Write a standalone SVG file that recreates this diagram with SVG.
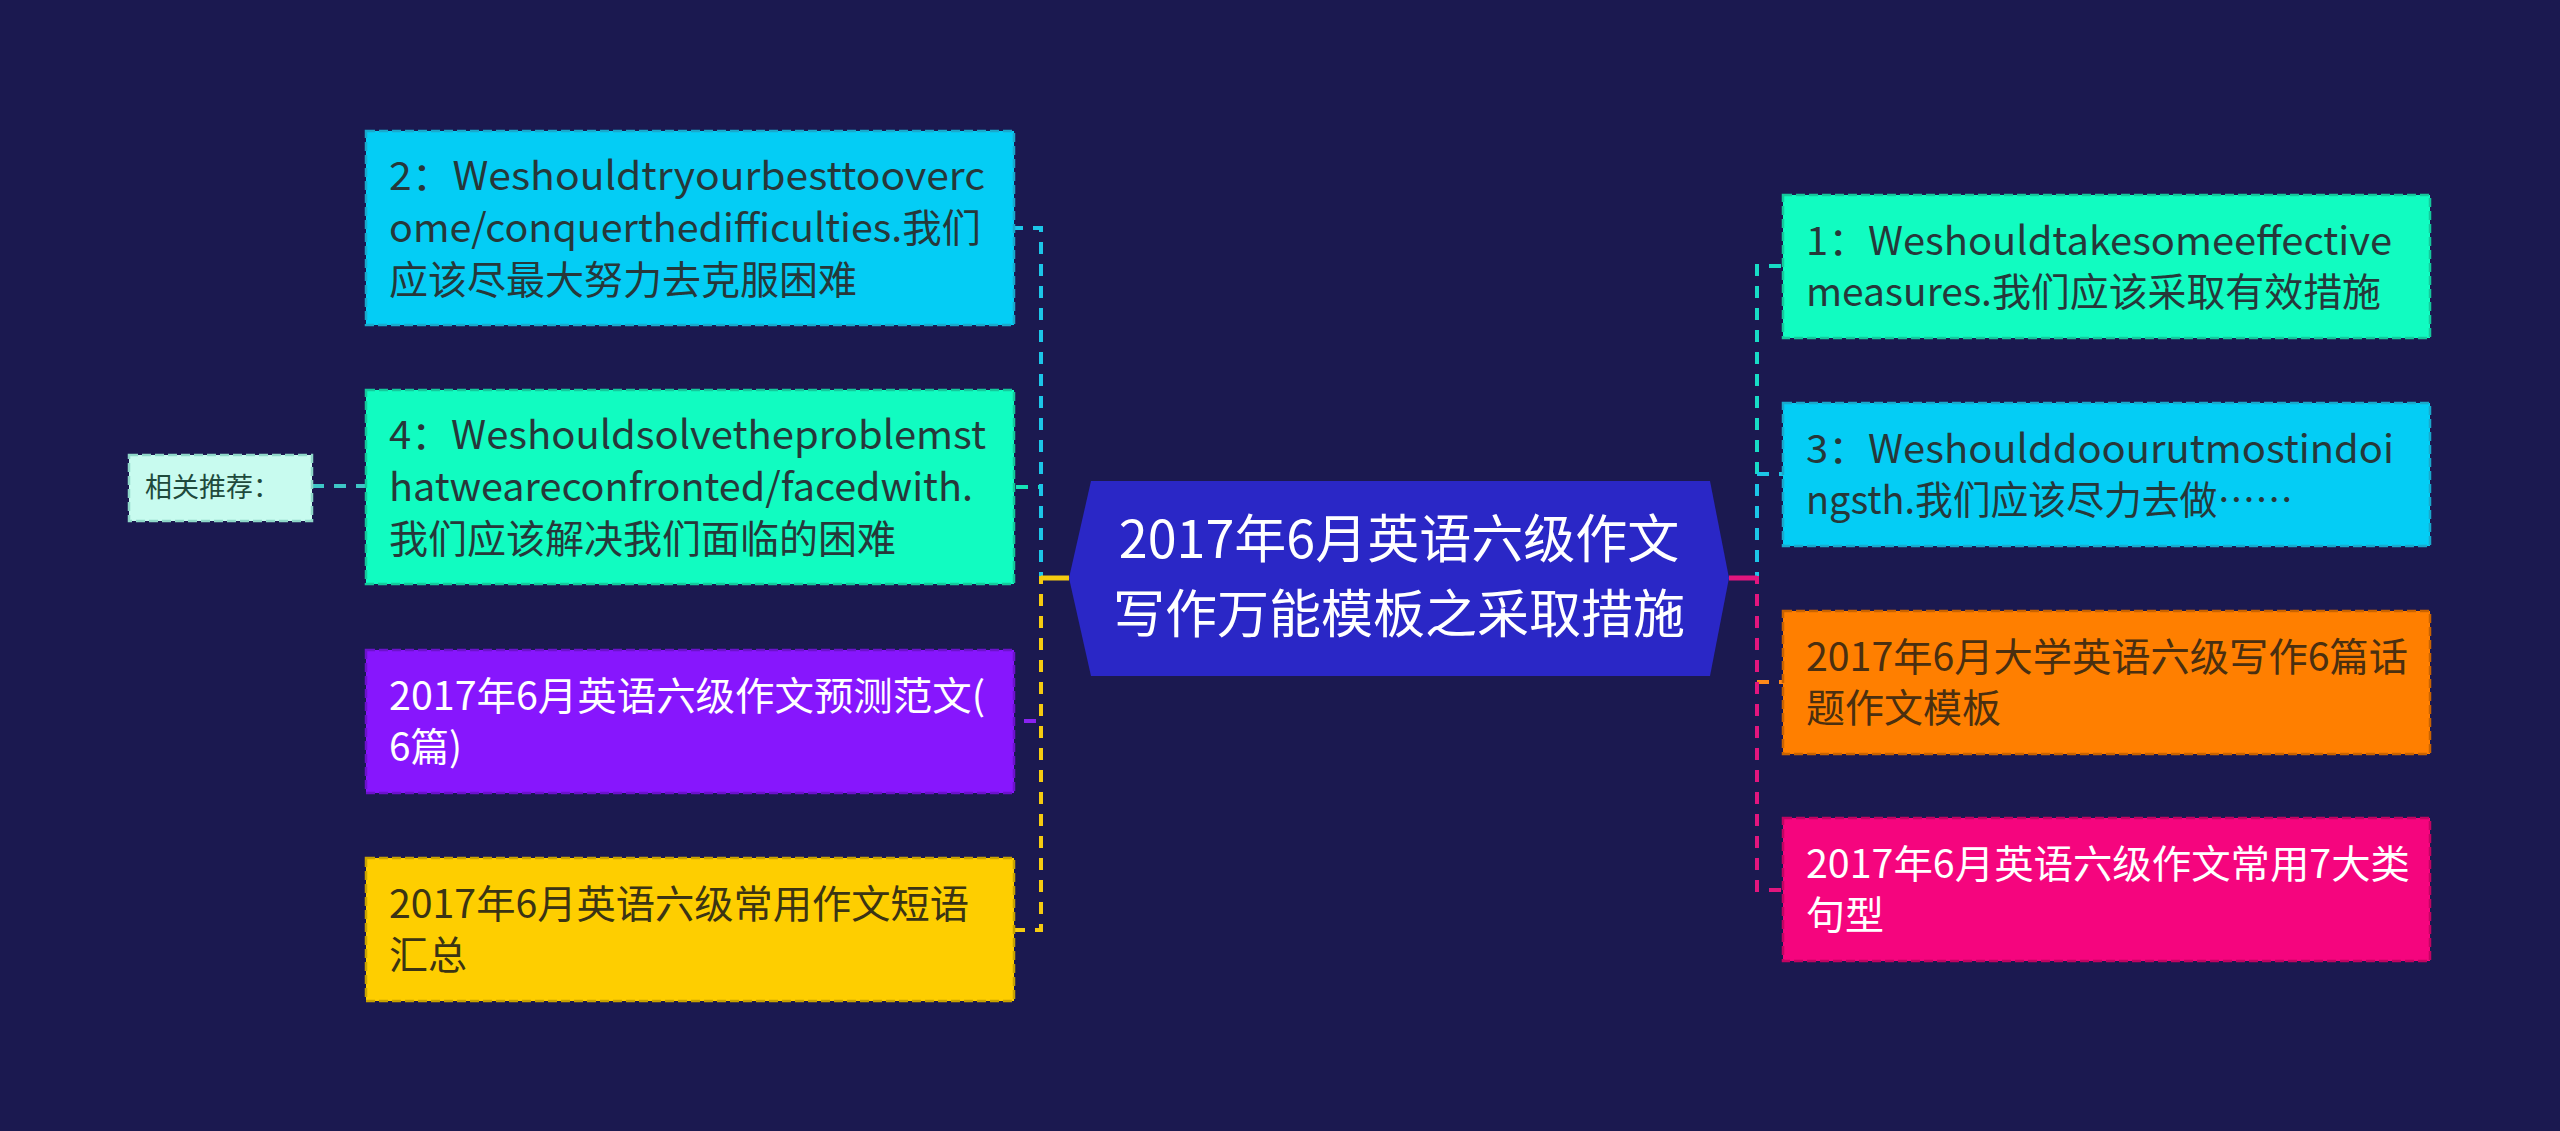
<svg xmlns="http://www.w3.org/2000/svg" width="2560" height="1131" viewBox="0 0 2560 1131">
<style>
text{font-family:"Noto Sans CJK SC","Microsoft YaHei",sans-serif;}
.t{font-size:39px;}
.dk{fill:#26383a;}
.wh{fill:#ffffff;}
.box{stroke-width:2.5;stroke-dasharray:9 4;}
.con{fill:none;stroke-width:4;stroke-dasharray:12 10;}
</style>
<rect x="0" y="0" width="2560" height="1131" fill="#1b1950"/>
<g id="connectors">
<path class="con" d="M312,486 H366" stroke="#3ec6c6"/>
<path class="con" d="M1069,578 H1041 V487 H1014" stroke="#15e3b6"/>
<path class="con" d="M1069,578 H1041 V228 H1014" stroke="#1cc6e8"/>
<path class="con" d="M1069,578 H1041 V721 H1014" stroke="#8a22f2"/>
<path class="con" d="M1069,578 H1041 V930 H1014" stroke="#f5cb10"/>
<path d="M1069,578 H1041" fill="none" stroke="#f5cb10" stroke-width="5"/>
<path class="con" d="M1729,578 H1757 V266 H1783" stroke="#18dcc6"/>
<path class="con" d="M1729,578 H1757 V474 H1783" stroke="#1cc6e8"/>
<path class="con" d="M1729,578 H1757 V682 H1783" stroke="#ff8a1a"/>
<path class="con" d="M1729,578 H1757 V890 H1783" stroke="#e2167e"/>
<path d="M1729,578 H1757" fill="none" stroke="#e2167e" stroke-width="5"/>
</g>
<g id="center">
<polygon points="1069,578 1091,481 1710,481 1729,578 1710,676 1091,676" fill="#2a27c6"/>
<text x="1399" y="558" font-size="52" text-anchor="middle" class="wh">2017年6月英语六级作文</text>
<text x="1399" y="633" font-size="52" text-anchor="middle" class="wh">写作万能模板之采取措施</text>
</g>
<g id="node-related">
<rect x="129" y="455" width="183" height="66" fill="#c8fbef" stroke="#8fd8c8" class="box"/>
<text x="145" y="497" font-size="27" fill="#1f4a3c">相关推荐：</text>
</g>
<g id="node-2">
<rect x="366" y="131" width="648" height="194" fill="#04cdf5" stroke="#19a9cc" class="box"/>
<text class="t dk" x="389" y="190" textLength="596" lengthAdjust="spacingAndGlyphs">2：Weshouldtryourbesttooverc</text>
<text class="t dk" x="389" y="242" textLength="592" lengthAdjust="spacingAndGlyphs">ome/conquerthedifficulties.我们</text>
<text class="t dk" x="389" y="294">应该尽最大努力去克服困难</text>
</g>
<g id="node-4">
<rect x="366" y="390" width="648" height="194" fill="#11fcc1" stroke="#14c99c" class="box"/>
<text class="t dk" x="389" y="449" textLength="597" lengthAdjust="spacingAndGlyphs">4：Weshouldsolvetheproblemst</text>
<text class="t dk" x="389" y="501" textLength="584" lengthAdjust="spacingAndGlyphs">hatweareconfronted/facedwith.</text>
<text class="t dk" x="389" y="553">我们应该解决我们面临的困难</text>
</g>
<g id="node-predict">
<rect x="366" y="650" width="648" height="143" fill="#8716fd" stroke="#6c12cc" class="box"/>
<text class="t wh" x="389" y="710" textLength="596" lengthAdjust="spacingAndGlyphs">2017年6月英语六级作文预测范文(</text>
<text class="t wh" x="389" y="761" textLength="73" lengthAdjust="spacingAndGlyphs">6篇)</text>
</g>
<g id="node-phrases">
<rect x="366" y="858" width="648" height="143" fill="#fece00" stroke="#c9a300" class="box"/>
<text class="t" fill="#3b3414" x="389" y="918" textLength="580" lengthAdjust="spacingAndGlyphs">2017年6月英语六级常用作文短语</text>
<text class="t" fill="#3b3414" x="389" y="969">汇总</text>
</g>
<g id="node-1">
<rect x="1783" y="195" width="647" height="143" fill="#11fcc1" stroke="#14c99c" class="box"/>
<text class="t dk" x="1806" y="255" textLength="586" lengthAdjust="spacingAndGlyphs">1：Weshouldtakesomeeffective</text>
<text class="t dk" x="1806" y="306" textLength="575" lengthAdjust="spacingAndGlyphs">measures.我们应该采取有效措施</text>
</g>
<g id="node-3">
<rect x="1783" y="403" width="647" height="143" fill="#04cdf5" stroke="#19a9cc" class="box"/>
<text class="t dk" x="1806" y="463" textLength="588" lengthAdjust="spacingAndGlyphs">3：Weshoulddoourutmostindoi</text>
<text class="t dk" x="1806" y="514" textLength="487" lengthAdjust="spacingAndGlyphs">ngsth.我们应该尽力去做……</text>
</g>
<g id="node-topics">
<rect x="1783" y="611" width="647" height="143" fill="#ff7f00" stroke="#c96300" class="box"/>
<text class="t" fill="#4a2f10" x="1806" y="671" textLength="602" lengthAdjust="spacingAndGlyphs">2017年6月大学英语六级写作6篇话</text>
<text class="t" fill="#4a2f10" x="1806" y="722">题作文模板</text>
</g>
<g id="node-sentences">
<rect x="1783" y="818" width="647" height="143" fill="#f5057e" stroke="#c20462" class="box"/>
<text class="t wh" x="1806" y="878" textLength="604" lengthAdjust="spacingAndGlyphs">2017年6月英语六级作文常用7大类</text>
<text class="t wh" x="1806" y="929">句型</text>
</g>
</svg>
